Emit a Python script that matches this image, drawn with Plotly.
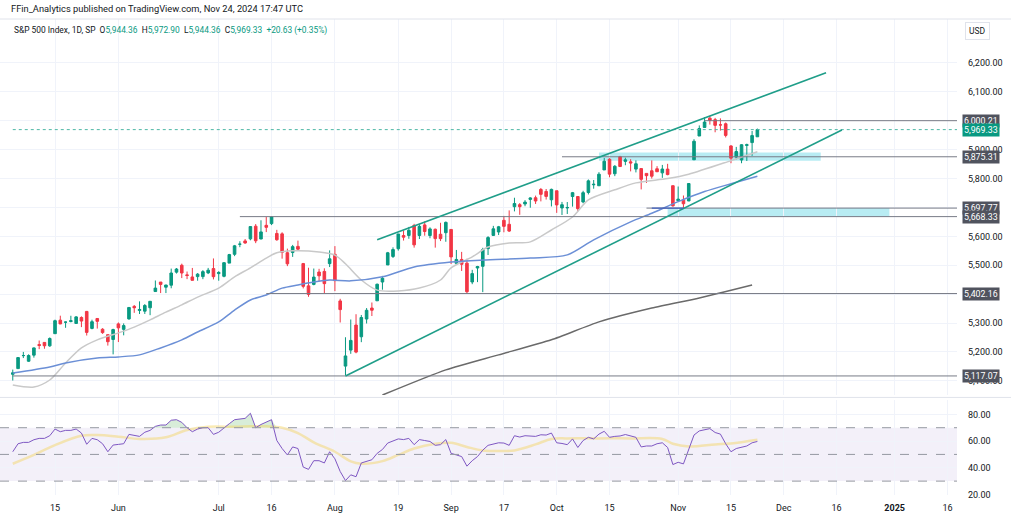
import pandas as pd
import numpy as np
import plotly.graph_objects as go

# ---------------- trading days (x axis = bar index, like TradingView) ----------------
holidays = ["2024-05-27", "2024-06-19", "2024-07-04", "2024-09-02",
            "2024-11-28", "2024-12-25", "2025-01-01"]
days = [d for d in pd.bdate_range("2024-05-03", "2025-01-31")
        if d.strftime("%Y-%m-%d") not in holidays]
pos = {d.strftime("%Y-%m-%d"): i for i, d in enumerate(days)}

# ---------------- S&P 500 daily candles, May 3 -> Nov 22 2024 ----------------
opens = [
    5122.8, 5142.4, 5187.2, 5168.0, 5189.0, 5225.5, 5233.1, 5221.1, 5263.3, 5310.1,
    5303.1, 5305.4, 5298.7, 5319.3, 5340.3, 5281.5, 5315.9, 5278.7, 5259.8, 5243.2,
    5297.2, 5278.2, 5314.5, 5357.8, 5343.8, 5341.2, 5353.0, 5409.1, 5441.9, 5424.1,
    5431.1, 5476.2, 5500.0, 5466.8, 5459.6, 5460.7, 5460.7, 5473.6, 5488.5, 5471.1,
    5461.8, 5507.4, 5537.9, 5572.8, 5584.2, 5591.3, 5635.2, 5590.8, 5638.2, 5644.1,
    5610.1, 5608.6, 5543.4, 5544.0, 5565.3, 5505.8, 5428.7, 5433.7, 5476.6, 5478.7,
    5505.6, 5537.8, 5376.6, 5151.1, 5206.4, 5293.1, 5252.6, 5314.0, 5352.0, 5377.0,
    5442.0, 5501.1, 5530.5, 5557.2, 5602.9, 5603.1, 5637.8, 5602.9, 5639.7, 5602.9,
    5624.5, 5607.3, 5612.7, 5623.9, 5506.7, 5520.1, 5507.3, 5442.1, 5490.5, 5496.4,
    5557.5, 5603.3, 5615.2, 5655.5, 5641.7, 5702.6, 5709.6, 5711.9, 5727.8, 5733.6,
    5762.2, 5755.4, 5726.5, 5757.7, 5698.2, 5698.2, 5737.8, 5737.8, 5719.1, 5751.8,
    5778.4, 5775.1, 5829.8, 5866.7, 5816.6, 5875.6, 5859.4, 5857.8, 5832.7, 5834.5,
    5817.8, 5826.8, 5833.9, 5819.7, 5832.7, 5775.3, 5723.2, 5725.2, 5722.4, 5864.9,
    5947.2, 5976.8, 6008.9, 6003.6, 5985.8, 5989.6, 5912.8, 5874.2, 5864.2, 5914.6,
    5924.4, 5944.4]
highs = [
    5139.1, 5181.0, 5200.2, 5191.9, 5215.3, 5239.7, 5234.3, 5250.4, 5311.8, 5325.5,
    5305.4, 5325.3, 5324.3, 5323.2, 5341.9, 5311.7, 5315.9, 5282.3, 5260.2, 5280.3,
    5302.1, 5298.8, 5354.2, 5362.4, 5375.1, 5365.8, 5376.0, 5447.3, 5441.9, 5432.4,
    5488.5, 5490.4, 5505.5, 5478.3, 5490.7, 5472.9, 5483.1, 5490.8, 5523.6, 5479.6,
    5509.7, 5539.3, 5570.3, 5583.1, 5590.8, 5635.4, 5642.5, 5655.6, 5666.9, 5669.7,
    5622.5, 5614.1, 5557.5, 5570.4, 5585.3, 5508.0, 5491.5, 5488.7, 5487.7, 5489.5,
    5551.5, 5566.2, 5383.9, 5250.9, 5312.3, 5330.6, 5328.0, 5351.9, 5371.2, 5436.5,
    5463.2, 5546.2, 5562.0, 5608.3, 5620.5, 5632.7, 5643.2, 5641.8, 5651.6, 5631.2,
    5627.0, 5647.0, 5651.4, 5623.9, 5553.0, 5546.3, 5522.5, 5484.2, 5497.9, 5560.4,
    5600.7, 5636.3, 5636.1, 5670.8, 5689.8, 5733.6, 5715.1, 5725.4, 5735.3, 5741.0,
    5767.4, 5763.8, 5765.1, 5757.7, 5719.1, 5718.8, 5753.6, 5739.3, 5757.6, 5796.8,
    5795.0, 5822.1, 5871.4, 5870.4, 5846.5, 5878.5, 5872.2, 5866.9, 5863.0, 5834.9,
    5817.8, 5862.8, 5842.9, 5847.2, 5850.9, 5775.3, 5772.5, 5741.4, 5783.4, 5936.1,
    5983.8, 6012.5, 6017.3, 6009.9, 6008.2, 5993.9, 5915.4, 5909.5, 5919.0, 5920.7,
    5964.4, 5972.9]
lows = [
    5101.2, 5142.4, 5178.9, 5165.9, 5180.4, 5209.7, 5211.2, 5218.0, 5263.0, 5296.2,
    5283.6, 5302.4, 5297.9, 5286.0, 5256.9, 5278.4, 5280.9, 5262.7, 5222.1, 5191.7,
    5234.3, 5257.6, 5311.6, 5335.4, 5331.3, 5331.5, 5327.3, 5409.1, 5403.8, 5403.8,
    5420.4, 5471.3, 5455.6, 5452.0, 5447.6, 5446.6, 5451.9, 5469.5, 5451.1, 5446.5,
    5458.4, 5507.4, 5531.6, 5562.5, 5574.6, 5586.4, 5576.5, 5590.4, 5614.8, 5639.0,
    5584.8, 5522.8, 5497.0, 5529.0, 5550.9, 5420.0, 5390.9, 5430.7, 5444.4, 5403.3,
    5493.8, 5410.4, 5302.0, 5119.3, 5193.6, 5195.5, 5233.9, 5298.5, 5324.4, 5377.0,
    5415.5, 5501.1, 5525.2, 5550.7, 5585.5, 5591.6, 5561.0, 5590.8, 5602.3, 5593.5,
    5561.0, 5583.7, 5581.3, 5504.3, 5503.7, 5480.3, 5402.6, 5434.5, 5441.7, 5407.0,
    5535.5, 5601.6, 5604.5, 5614.1, 5615.1, 5686.4, 5674.5, 5704.2, 5699.0, 5712.1,
    5721.0, 5727.3, 5703.5, 5681.3, 5674.0, 5677.4, 5702.8, 5686.9, 5714.6, 5745.0,
    5764.8, 5775.1, 5829.8, 5804.5, 5808.3, 5840.3, 5846.1, 5824.8, 5821.2, 5762.4,
    5784.9, 5800.0, 5823.1, 5802.4, 5811.3, 5702.9, 5723.2, 5696.5, 5722.1, 5864.9,
    5947.2, 5976.8, 5986.7, 5960.1, 5965.9, 5942.3, 5853.0, 5866.0, 5853.0, 5860.6,
    5878.5, 5944.4]
closes = [
    5127.8, 5180.7, 5187.7, 5187.7, 5214.1, 5222.7, 5221.4, 5246.7, 5308.2, 5297.1,
    5303.3, 5308.1, 5321.4, 5307.0, 5267.8, 5304.7, 5306.0, 5267.0, 5235.5, 5277.5,
    5283.4, 5291.3, 5354.0, 5353.0, 5347.0, 5360.8, 5375.3, 5421.0, 5433.7, 5431.6,
    5473.2, 5487.0, 5473.2, 5464.6, 5447.9, 5469.3, 5477.9, 5482.9, 5460.5, 5475.1,
    5509.0, 5537.0, 5567.2, 5572.9, 5577.0, 5633.9, 5584.5, 5615.4, 5631.2, 5667.2,
    5588.3, 5544.6, 5505.0, 5564.4, 5555.7, 5427.1, 5399.2, 5459.1, 5463.5, 5436.4,
    5522.3, 5446.7, 5346.6, 5186.3, 5240.0, 5199.5, 5319.3, 5344.2, 5344.4, 5434.4,
    5455.2, 5543.2, 5554.3, 5608.3, 5597.1, 5620.9, 5570.6, 5634.6, 5616.8, 5625.8,
    5592.2, 5592.0, 5648.4, 5528.9, 5520.1, 5503.4, 5408.4, 5471.1, 5495.5, 5554.1,
    5595.8, 5626.0, 5633.1, 5634.6, 5618.3, 5713.6, 5702.6, 5718.6, 5732.9, 5722.3,
    5745.4, 5738.2, 5762.5, 5708.8, 5709.5, 5699.9, 5751.1, 5695.9, 5751.1, 5792.0,
    5780.1, 5815.0, 5859.9, 5815.3, 5842.5, 5841.5, 5864.7, 5854.0, 5851.2, 5797.4,
    5809.9, 5808.1, 5823.5, 5832.9, 5813.7, 5705.5, 5728.8, 5712.7, 5782.8, 5929.0,
    5973.1, 5995.5, 6001.4, 5984.0, 5985.4, 5949.2, 5870.6, 5893.6, 5917.0, 5917.1,
    5948.7, 5969.3]

# RSI(14) per bar
rsi = [
    52, 58, 59, 59, 61, 62, 62, 64, 69, 67,
    68, 68, 69, 66, 57.6, 62, 61, 58, 52, 57,
    57.5, 58, 65, 64, 63.5, 66.6, 68, 71, 72, 72,
    75.6, 76, 74, 70, 67, 69, 70, 70, 65, 66.6,
    70, 73, 76, 76.5, 77, 80.8, 70, 72.4, 74, 76,
    60.4, 54.4, 49.6, 55.6, 54.4, 40.5, 38.8, 45.3, 45.3, 43.6,
    52, 46.7, 37.2, 30.4, 34.7, 33.3, 43.6, 44.8, 46, 50.8,
    53.7, 58.5, 60.2, 61.6, 61.1, 62, 57.3, 61.1, 60.4, 59.7,
    56.8, 57.3, 61.1, 50.8, 49.6, 48.4, 41.2, 45.3, 48.4, 53.2,
    56.8, 58, 58.7, 58.5, 56.8, 64, 63, 64, 63.8, 63.5,
    64.7, 64.5, 66, 58.7, 58.2, 57.3, 61.6, 55.2, 60.4, 62.8,
    61.6, 65.2, 67.3, 62.8, 63.5, 63.8, 64.9, 64, 62.8, 55.6,
    56.3, 56.3, 58, 58.7, 55.2, 42.4, 44.1, 42.9, 54.4, 64.5,
    67.6, 68.3, 69.3, 66.4, 65.2, 58, 52, 54.4, 55.6, 56.3,
    58.7, 59.7]

# RSI-based MA (yellow), sampled
rsima_dates = ["2024-05-03", "2024-05-09", "2024-05-15", "2024-05-22", "2024-05-28", "2024-06-03",
               "2024-06-07", "2024-06-14", "2024-06-21", "2024-06-27", "2024-07-05", "2024-07-10",
               "2024-07-15", "2024-07-18", "2024-07-23", "2024-07-26", "2024-08-01", "2024-08-06",
               "2024-08-08", "2024-08-14", "2024-08-19", "2024-08-22", "2024-08-28", "2024-09-03",
               "2024-09-06", "2024-09-11", "2024-09-16", "2024-09-19", "2024-09-25", "2024-09-30",
               "2024-10-03", "2024-10-11", "2024-10-21", "2024-10-29", "2024-10-31", "2024-11-05",
               "2024-11-12", "2024-11-15", "2024-11-22"]
rsima_vals = [43, 49.6, 57, 64, 64.5, 63.3, 61.6, 62.8, 68.3, 70.7, 70.7, 71,
              71, 70, 66, 59, 52, 44.8, 43, 45, 49.6, 54.4, 58, 58.7,
              55.6, 53, 52.5, 53, 57.5, 61.6, 62, 62, 62, 61.6, 58, 56,
              57.5, 58.2, 61]

# moving averages on price, sampled
ma20_dates = ["2024-05-03", "2024-05-09", "2024-05-14", "2024-05-17", "2024-05-22", "2024-05-28",
              "2024-06-03", "2024-06-06", "2024-06-11", "2024-06-14", "2024-06-20", "2024-06-25",
              "2024-07-01", "2024-07-05", "2024-07-10", "2024-07-15", "2024-07-17", "2024-07-22",
              "2024-07-29", "2024-08-01", "2024-08-05", "2024-08-08", "2024-08-13", "2024-08-19",
              "2024-08-23", "2024-08-29", "2024-09-03", "2024-09-09", "2024-09-12", "2024-09-18",
              "2024-09-24", "2024-09-30", "2024-10-04", "2024-10-09", "2024-10-16", "2024-10-22",
              "2024-10-30", "2024-11-05", "2024-11-15", "2024-11-22"]
ma20_vals = [5086, 5079, 5103, 5162, 5214, 5242, 5266, 5286, 5311, 5338, 5363, 5390,
             5421, 5460, 5491, 5525, 5543, 5550, 5546, 5535, 5505, 5449, 5414, 5411,
             5421, 5449, 5491, 5529, 5563, 5577, 5581, 5622, 5667, 5726, 5761, 5785,
             5800, 5815, 5862, 5893]

ma50_dates = ["2024-05-03", "2024-05-14", "2024-05-17", "2024-05-28", "2024-06-03", "2024-06-07",
              "2024-06-13", "2024-06-20", "2024-06-25", "2024-07-01", "2024-07-05", "2024-07-10",
              "2024-07-15", "2024-07-18", "2024-07-23", "2024-07-26", "2024-07-31", "2024-08-06",
              "2024-08-14", "2024-08-22", "2024-09-03", "2024-09-11", "2024-09-24", "2024-10-03",
              "2024-10-10", "2024-10-21", "2024-10-25", "2024-11-01", "2024-11-08", "2024-11-15",
              "2024-11-22"]
ma50_vals = [5127, 5148, 5162, 5179, 5183, 5190, 5214, 5242, 5269, 5304, 5345, 5380,
             5397, 5421, 5432, 5442, 5449, 5446, 5460, 5494, 5511, 5518, 5525, 5536,
             5588, 5650, 5680, 5720, 5755, 5782, 5808]

ma200_dates = ["2024-08-14", "2024-08-30", "2024-09-16", "2024-09-30", "2024-10-11",
               "2024-10-25", "2024-11-07", "2024-11-21"]
ma200_vals = [5051, 5138, 5190, 5242, 5304, 5352, 5387, 5432]

# horizontal levels drawn on the chart (price, start date)
level_prices = [6000.21, 5875.31, 5697.77, 5668.33, 5402.16, 5117.07]
level_starts = ["2024-11-08", "2024-10-02", "2024-10-24", "2024-07-08", "2024-07-15", "2024-05-03"]
last_price = 5969.33

# zones (start, end, low, high)
zone_starts = ["2024-10-11", "2024-10-30"]
zone_ends = ["2024-12-11", "2024-12-31"]
zone_lows = [5862, 5668.33]
zone_highs = [5890, 5697.77]

# channel trend lines (two points each)
chan_dates = [["2024-08-13", "2024-12-12"], ["2024-08-05", "2024-12-17"]]
chan_prices = [[5588, 6166], [5117, 5968]]
blue_seg_dates = ["2024-10-25", "2024-11-04"]
blue_seg_price = 5698

tick_dates = ["2024-05-15", "2024-06-03", "2024-07-01", "2024-07-16", "2024-08-01", "2024-08-19",
              "2024-09-03", "2024-09-17", "2024-10-01", "2024-10-15", "2024-11-01", "2024-11-15",
              "2024-12-02", "2024-12-16", "2025-01-02", "2025-01-16"]
tick_text = ["15", "Jun", "Jul", "16", "Aug", "19", "Sep", "17", "Oct", "15", "Nov", "15",
             "Dec", "16", "<b>2025</b>", "16"]

price_ticks = list(range(5100, 6201, 100))
price_hidden = [6000, 5700, 5400]   # fully covered by the level labels
rsi_ticks = [20, 40, 60, 80]

# ---------------- figure ----------------
W, H = 1011, 521
GREEN, RED = "#089981", "#f23645"
TEAL = "#1f9e89"
FONT = "Roboto"
x_range = [-2.42, 178.8]
bars = list(range(len(closes)))

def px(dates):
    return [pos[d] for d in dates]

fig = go.Figure()

fig.add_trace(go.Candlestick(
    x=bars, open=opens, high=highs, low=lows, close=closes,
    increasing=dict(line=dict(color=GREEN, width=1), fillcolor=GREEN),
    decreasing=dict(line=dict(color=RED, width=1), fillcolor=RED),
    whiskerwidth=0, hoverinfo="skip", showlegend=False, xaxis="x", yaxis="y"))

fig.add_trace(go.Scatter(x=px(ma20_dates), y=ma20_vals, mode="lines",
                         line=dict(color="#c9c9c9", width=1.5, shape="spline", smoothing=0.8),
                         showlegend=False, hoverinfo="skip"))
fig.add_trace(go.Scatter(x=px(ma50_dates), y=ma50_vals, mode="lines",
                         line=dict(color="#6b8fd6", width=1.5, shape="spline", smoothing=0.8),
                         showlegend=False, hoverinfo="skip"))
fig.add_trace(go.Scatter(x=px(ma200_dates), y=ma200_vals, mode="lines",
                         line=dict(color="#6a6a6a", width=1.5, shape="spline", smoothing=0.6),
                         showlegend=False, hoverinfo="skip"))

# RSI pane
fig.add_trace(go.Scatter(x=bars, y=[70] * len(bars), mode="lines", line=dict(width=0),
                         xaxis="x2", yaxis="y2", showlegend=False, hoverinfo="skip"))
fig.add_trace(go.Scatter(x=bars, y=np.maximum(rsi, 70), mode="lines", line=dict(width=0),
                         fill="tonexty", fillcolor="rgba(76,175,80,0.22)",
                         xaxis="x2", yaxis="y2", showlegend=False, hoverinfo="skip"))
fig.add_trace(go.Scatter(x=px(rsima_dates), y=rsima_vals, mode="lines",
                         line=dict(color="rgba(245,210,90,0.45)", width=2.5, shape="spline"),
                         xaxis="x2", yaxis="y2", showlegend=False, hoverinfo="skip"))
fig.add_trace(go.Scatter(x=bars, y=rsi, mode="lines", line=dict(color="#7e57c2", width=1),
                         xaxis="x2", yaxis="y2", showlegend=False, hoverinfo="skip"))

shapes = []
# RSI band and bands lines
shapes.append(dict(type="rect", xref="x2", yref="y2", x0=x_range[0], x1=x_range[1], y0=30, y1=70,
                   fillcolor="rgba(126,87,194,0.09)", line=dict(width=0), layer="below"))
for lv in [70, 50, 30]:
    shapes.append(dict(type="line", xref="x2", yref="y2", x0=x_range[0], x1=x_range[1], y0=lv, y1=lv,
                       line=dict(color="#9598a1", width=1, dash="dash")))

# zones
for s, e, lo, hi in zip(zone_starts, zone_ends, zone_lows, zone_highs):
    shapes.append(dict(type="rect", xref="x", yref="y", x0=pos[s], x1=pos[e], y0=lo, y1=hi,
                       fillcolor="rgba(0,188,212,0.28)", line=dict(width=0), layer="below"))

# levels
for p, s in zip(level_prices, level_starts):
    shapes.append(dict(type="line", xref="x", yref="y", x0=pos[s], x1=x_range[1], y0=p, y1=p,
                       line=dict(color="#787b86", width=1)))
shapes.append(dict(type="line", xref="x", yref="y", x0=0, x1=x_range[1], y0=last_price, y1=last_price,
                   line=dict(color="#4fb8a6", width=1, dash="dot")))

# channel
for ds, ps in zip(chan_dates, chan_prices):
    shapes.append(dict(type="line", xref="x", yref="y", x0=pos[ds[0]], x1=pos[ds[1]], y0=ps[0], y1=ps[1],
                       line=dict(color=TEAL, width=1.6)))
shapes.append(dict(type="line", xref="x", yref="y", x0=pos[blue_seg_dates[0]], x1=pos[blue_seg_dates[1]],
                   y0=blue_seg_price, y1=blue_seg_price, line=dict(color="#3f5fbf", width=1.2)))

# pane separator and header rule
shapes.append(dict(type="line", xref="paper", yref="paper", x0=0, x1=1 + 54 / 957, y0=0.205, y1=0.205,
                   line=dict(color="#e0e3eb", width=1)))
shapes.append(dict(type="line", xref="paper", yref="paper", x0=0, x1=1 + 54 / 957, y0=1, y1=1,
                   line=dict(color="#e0e3eb", width=1)))

annotations = []
annotations.append(dict(xref="paper", yref="paper", x=0, y=1, xanchor="left", yanchor="bottom",
                        xshift=9, yshift=3, showarrow=False,
                        text="FFin_Analytics published on TradingView.com, Nov 24, 2024 17:47 UTC",
                        font=dict(family=FONT, size=9.3, color="#131722")))
g = lambda t: f"<span style='color:{GREEN}'>{t}</span>"
annotations.append(dict(xref="paper", yref="paper", x=0, y=1, xanchor="left", yanchor="top",
                        xshift=12, yshift=-4, showarrow=False,
                        text=f"S&P 500 Index, 1D, SP  O{g('5,944.36')}  H{g('5,972.90')}  L{g('5,944.36')}  "
                             f"C{g('5,969.33')}  {g('+20.63 (+0.35%)')}",
                        font=dict(family=FONT, size=8.4, color="#131722")))
annotations.append(dict(xref="paper", yref="paper", x=1, y=1, xanchor="left", yanchor="top",
                        xshift=8, yshift=-3, showarrow=False, text="USD",
                        bordercolor="#e0e3eb", borderwidth=1, borderpad=3,
                        font=dict(family=FONT, size=8.5, color="#131722")))
for p in level_prices:
    annotations.append(dict(xref="paper", yref="y", x=1, y=p, xanchor="left", yanchor="middle",
                            xshift=5, showarrow=False, text=f"{p:,.2f}", bgcolor="#50535e",
                            borderpad=1, font=dict(family=FONT, size=8.8, color="white")))
annotations.append(dict(xref="paper", yref="y", x=1, y=last_price, xanchor="left", yanchor="middle",
                        xshift=5, showarrow=False, text=f"{last_price:,.2f}", bgcolor=GREEN,
                        borderpad=1, font=dict(family=FONT, size=8.8, color="white")))

grid = "#f0f3fa"
fig.update_layout(
    width=W, height=H, margin=dict(l=0, r=54, t=19, b=26),
    paper_bgcolor="white", plot_bgcolor="white",
    font=dict(family=FONT, size=9, color="#131722"),
    xaxis=dict(domain=[0, 1], range=x_range, tickvals=px(tick_dates), showticklabels=False,
               showgrid=True, gridcolor=grid, zeroline=False, rangeslider=dict(visible=False),
               anchor="y"),
    xaxis2=dict(domain=[0, 1], range=x_range, tickvals=px(tick_dates), ticktext=tick_text,
                showgrid=True, gridcolor=grid, zeroline=False, anchor="y2", ticks="",
                ticklabelstandoff=6, tickfont=dict(size=9, color="#131722")),
    yaxis=dict(domain=[0.21, 1], range=[5051, 6352], side="right", tickvals=price_ticks,
               ticktext=["" if v in price_hidden else f"{v:,.2f}" for v in price_ticks],
               showgrid=True, gridcolor=grid,
               zeroline=False, ticklabelstandoff=10, tickfont=dict(size=9, color="#131722")),
    yaxis2=dict(domain=[0, 0.2], range=[19.6, 90.9], side="right", tickvals=rsi_ticks,
                ticktext=[f"{v:.2f}" for v in rsi_ticks], showgrid=True, gridcolor=grid,
                zeroline=False, ticklabelstandoff=10, tickfont=dict(size=9, color="#131722"),
                anchor="x2"),
    shapes=shapes, annotations=annotations,
)

# page body has a default margin; remove it so the figure sits at the window corner
fig.write_html("out.html", config={"displayModeBar": False},
               post_script="document.body.style.margin='0px';")
